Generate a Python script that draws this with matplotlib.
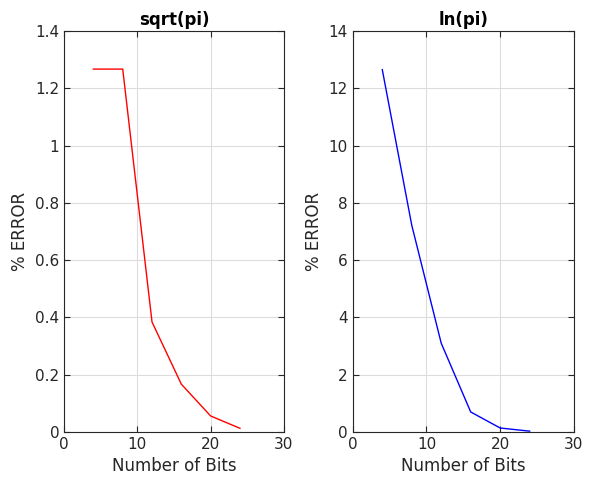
import numpy as np
import matplotlib.pyplot as plt

# bits used in the approximation
bits = [4, 8, 12, 16, 20, 24]

# percentage error for each function
err_sqrt_pi = [1.267, 1.267, 0.384, 0.167, 0.056, 0.013]
err_ln_pi = [12.65, 7.22, 3.1, 0.70, 0.14, 0.03]

xticks = [0, 10, 20, 30]
sqrt_yticks = [0, 0.2, 0.4, 0.6, 0.8, 1, 1.2, 1.4]
sqrt_ylabels = ["0", "0.2", "0.4", "0.6", "0.8", "1", "1.2", "1.4"]
ln_yticks = [0, 2, 4, 6, 8, 10, 12, 14]


def style_axes(ax):
    ax.grid(True, color="#dcdcdc", linewidth=0.8)
    ax.set_axisbelow(True)
    ax.tick_params(direction="in", top=True, right=True, length=4,
                   colors="#262626", labelsize=11, width=0.8)
    for s in ax.spines.values():
        s.set_color("#262626")
        s.set_linewidth(0.8)


fig = plt.figure(figsize=(5.99, 4.82), dpi=100)
ax1 = fig.add_axes([0.107, 0.1037, 0.367, 0.832])
ax2 = fig.add_axes([0.589, 0.1037, 0.369, 0.832])

ax1.plot(bits, err_sqrt_pi, color="red", linewidth=1)
ax1.set_xlim(0, 30)
ax1.set_ylim(0, 1.4)
ax1.set_xticks(xticks)
ax1.set_yticks(sqrt_yticks)
ax1.set_yticklabels(sqrt_ylabels)
ax1.set_title("sqrt(pi)", fontweight="bold", fontsize=12, pad=4)
ax1.set_xlabel("Number of Bits", fontsize=12, color="#262626")
ax1.set_ylabel("% ERROR", fontsize=12, color="#262626")
style_axes(ax1)

ax2.plot(bits, err_ln_pi, color="blue", linewidth=1)
ax2.set_xlim(0, 30)
ax2.set_ylim(0, 14)
ax2.set_xticks(xticks)
ax2.set_yticks(ln_yticks)
ax2.set_title("ln(pi)", fontweight="bold", fontsize=12, pad=4)
ax2.set_xlabel("Number of Bits", fontsize=12, color="#262626")
ax2.set_ylabel("% ERROR", fontsize=12, color="#262626")
style_axes(ax2)

fig.savefig("out.png", dpi=100)
